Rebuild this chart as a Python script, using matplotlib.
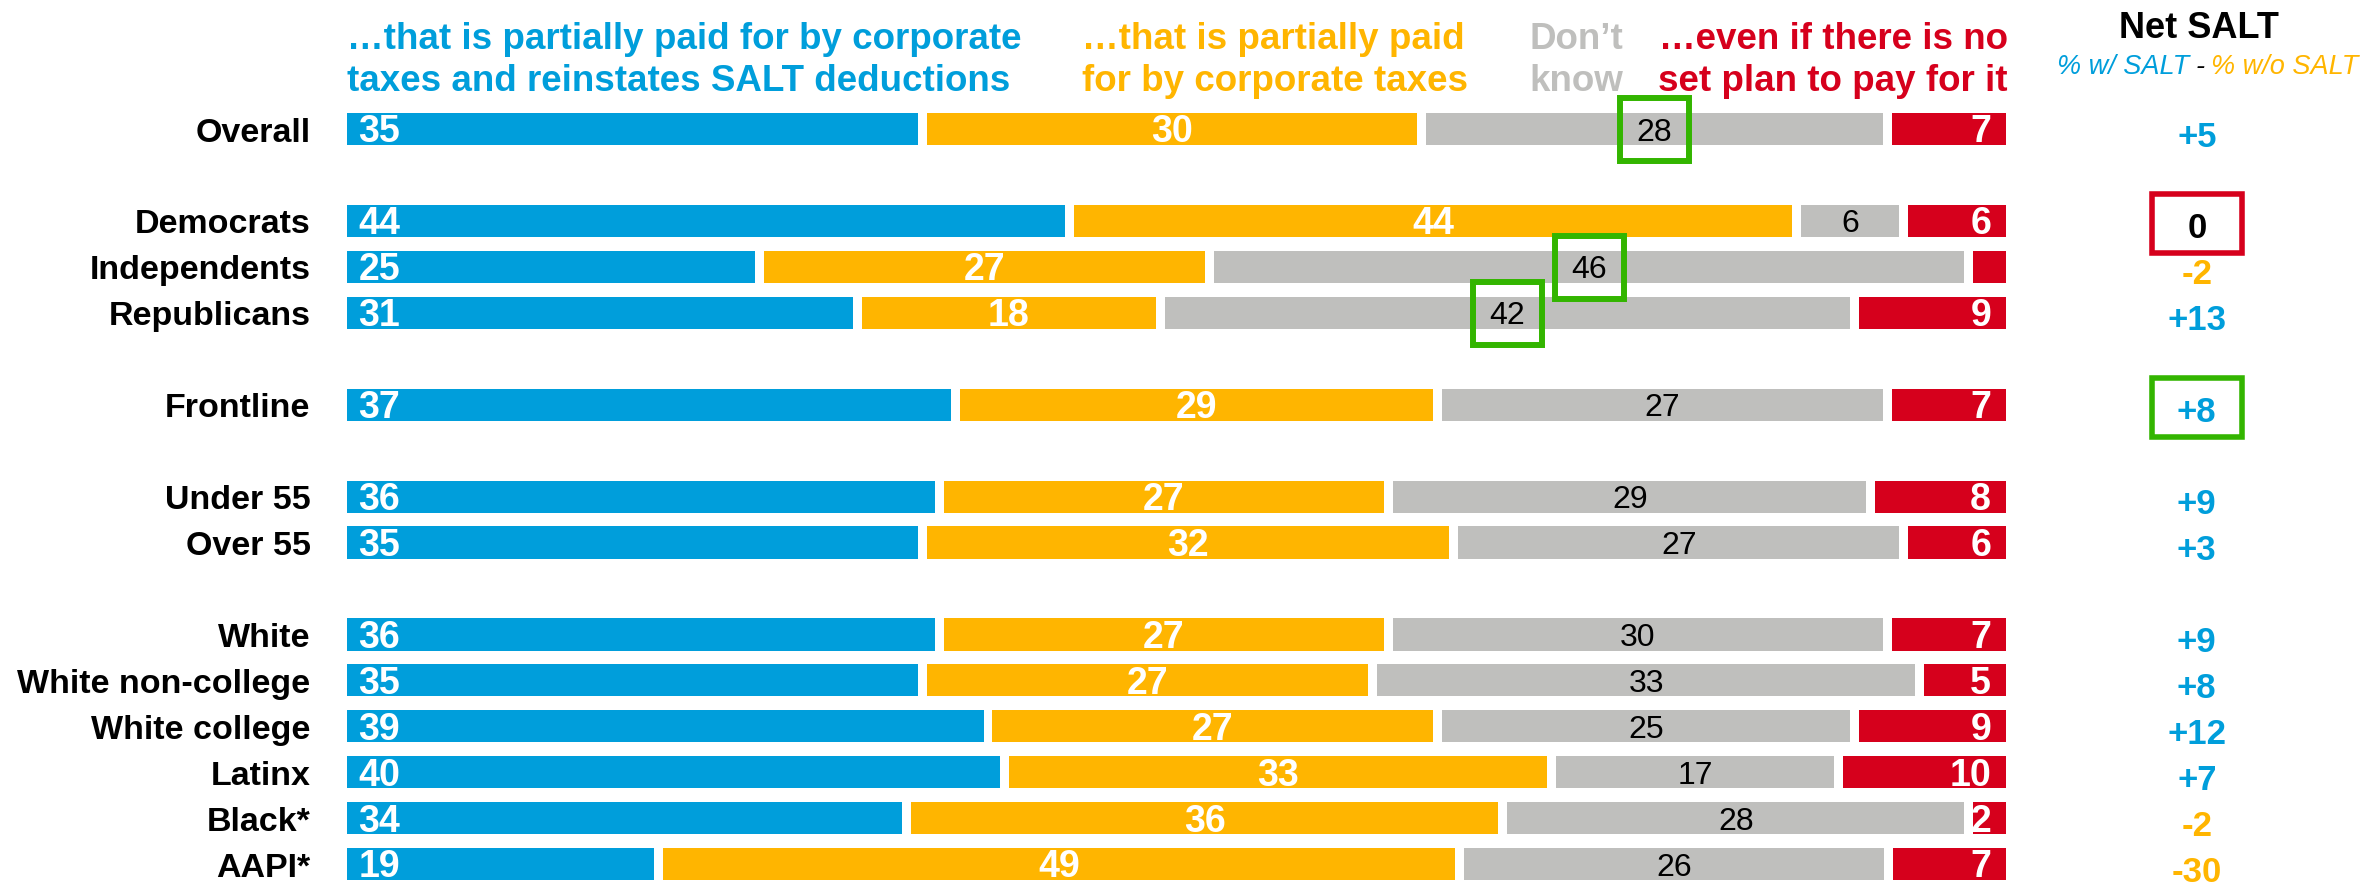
import matplotlib.pyplot as plt
import numpy as np
from matplotlib.patches import Rectangle

plt.rcParams["font.family"] = ["Liberation Sans", "DejaVu Sans"]

# colors
c_blue = "#009EDB"
c_orange = "#FFB500"
c_gray = "#BFBFBD"
c_red = "#D6001C"
c_green = "#33B500"

# data
groups = ["Overall",
          "Democrats", "Independents", "Republicans",
          "Frontline",
          "Under 55", "Over 55",
          "White", "White non-college", "White college", "Latinx", "Black*", "AAPI*"]
block_sizes = [1, 3, 1, 2, 6]

with_salt = [35, 44, 25, 31, 37, 36, 35, 36, 35, 39, 40, 34, 19]
corp_only = [30, 44, 27, 18, 29, 27, 32, 27, 27, 27, 33, 36, 49]
dont_know = [28, 6, 46, 42, 27, 29, 27, 30, 33, 25, 17, 28, 26]
no_plan = [7, 6, 2, 9, 7, 8, 6, 7, 5, 9, 10, 2, 7]

headers = [
    ["\u2026that is partially paid for by corporate", "taxes and reinstates SALT deductions"],
    ["\u2026that is partially paid", "for by corporate taxes"],
    ["Don\u2019t", "know"],
    ["\u2026even if there is no", "set plan to pay for it"],
]

# highlighted cells
boxed_gray = ["Overall", "Independents", "Republicans"]
boxed_net = {"Democrats": c_red, "Frontline": c_green}
hidden_red = ["Independents"]

net_salt = [a - b for a, b in zip(with_salt, corp_only)]

# row positions: blocks separated by an empty row
ypos = []
y = 0
for n in block_sizes:
    ypos += list(range(y, y + n))
    y += n + 1
ypos = np.array(ypos)

# canvas
fig = plt.figure(figsize=(23.76, 8.83), dpi=100)
ax = fig.add_axes([347 / 2376, 0, 1659 / 2376, 1])
ax.set_xlim(0, 100)
ax.set_ylim(16.41, -2.81)
ax.axis("off")

gap = 0.54
height = 0.70
series = [with_salt, corp_only, dont_know, no_plan]
colors = [c_blue, c_orange, c_gray, c_red]

vals = np.array(series, dtype=float)
widths = vals / vals.sum(axis=0) * (100 - 3 * gap)
lefts = np.vstack([np.zeros(len(groups)), np.cumsum(widths, axis=0)[:-1]])
lefts = lefts + np.arange(4)[:, None] * gap

for i in range(4):
    ax.barh(ypos, widths[i], left=lefts[i], height=height, color=colors[i], lw=0)

# text is placed on its baseline, shifted down by half the cap height (in rows)
lab_kw = {"va": "baseline", "fontsize": 27, "fontweight": "bold", "color": "white"}
for j, g in enumerate(groups):
    yy = ypos[j] + 0.29
    ax.text(lefts[0, j] + 0.7, yy, str(with_salt[j]), ha="left", **lab_kw)
    ax.text(lefts[1, j] + widths[1, j] / 2, yy, str(corp_only[j]), ha="center", **lab_kw)
    ax.text(lefts[2, j] + widths[2, j] / 2, ypos[j] + 0.25, str(dont_know[j]), ha="center",
            va="baseline", fontsize=23, color="black")
    if g not in hidden_red:
        ax.text(lefts[3, j] + widths[3, j] - 0.9, yy, str(no_plan[j]), ha="right", **lab_kw)

    # row label
    ax.text(-2.2, ypos[j] + 0.27, g, ha="right", va="baseline", fontsize=24.5,
            fontweight="bold")

    # green box around the don't know value
    if g in boxed_gray:
        xc = lefts[2, j] + widths[2, j] / 2
        ax.add_patch(Rectangle((xc - 2.08, ypos[j] - 0.68), 4.16, 1.37, fill=False,
                               ec=c_green, lw=4.3, clip_on=False, zorder=5))

# net SALT column
xnet = 111.5
for j, g in enumerate(groups):
    v = net_salt[j]
    if v > 0:
        txt, c = f"+{v}", c_blue
    elif v < 0:
        txt, c = f"{v}", c_orange
    else:
        txt, c = "0", "black"
    ax.text(xnet, ypos[j] + 0.38, txt, ha="center", va="baseline", fontsize=25,
            fontweight="bold", color=c, clip_on=False)
    if g in boxed_net:
        ax.add_patch(Rectangle((xnet - 2.7, ypos[j] + 0.06 - 0.64), 5.4, 1.28, fill=False,
                               ec=boxed_net[g], lw=4.0, clip_on=False, zorder=5))

ax.text(xnet + 0.1, -1.99, "Net SALT", ha="center", va="baseline", fontsize=26,
        fontweight="bold")
kw = {"va": "baseline", "fontsize": 19.5, "style": "italic", "annotation_clip": False}
xm = 111.7
ax.text(xm, -1.19, "-", ha="center", va="baseline", fontsize=19.5, style="italic")
ax.annotate("% w/ SALT", (xm, -1.19), xytext=(-8, 0), textcoords="offset points",
            ha="right", color=c_blue, **kw)
ax.annotate("% w/o SALT", (xm, -1.19), xytext=(8, 0), textcoords="offset points",
            ha="left", color=c_orange, **kw)

# column headers
hx = [(0, "left"), (44.3, "left"), (71.3, "left"), (100.1, "right")]
hy = [-1.75, -0.84]
for (x, ha), lines, c in zip(hx, headers, colors):
    for line, yl in zip(lines, hy):
        ax.text(x, yl, line, ha=ha, va="baseline", fontsize=26.5, fontweight="bold",
                color=c)

fig.savefig("out.png", dpi=100)
